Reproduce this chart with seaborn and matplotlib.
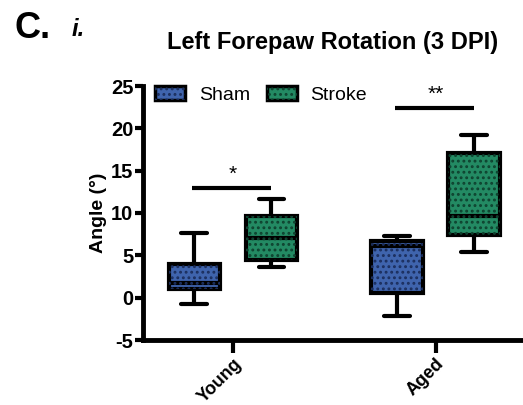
import matplotlib
matplotlib.use("Agg")
import matplotlib.pyplot as plt
from matplotlib.patches import Patch, PathPatch
from matplotlib.legend_handler import HandlerTuple
import seaborn as sns
import pandas as pd

# Five-number summaries (min, Q1, median, Q3, max) per group
ages = ["Young", "Aged"]
conditions = ["Sham", "Stroke"]
young_sham = [-0.8, 1.0, 1.7, 4.0, 7.6]
young_stroke = [3.6, 4.5, 7.0, 9.6, 11.6]
aged_sham = [-2.2, 0.6, 6.1, 6.7, 7.3]
aged_stroke = [5.4, 7.4, 9.7, 17.1, 19.2]

# Significance annotations: (age index, bar height, label)
sig_young = (0, 12.9, "*")
sig_aged = (1, 22.4, "**")

fill_colors = ["#3f64ad", "#238a63"]
dot_colors = ["#1c2f5e", "#0f4330"]

rows = []
for age, sham, stroke in zip(ages, [young_sham, aged_sham], [young_stroke, aged_stroke]):
    for v in sham:
        rows.append({"age": age, "group": "Sham", "angle": v})
    for v in stroke:
        rows.append({"age": age, "group": "Stroke", "angle": v})
df = pd.DataFrame(rows)

sns.set_style("ticks")
plt.rcParams["font.family"] = ["Liberation Sans", "DejaVu Sans"]
plt.rcParams["hatch.linewidth"] = 1.3
plt.rcParams["axes.unicode_minus"] = False
for key in ["text.color", "axes.labelcolor", "xtick.color", "ytick.color", "axes.edgecolor"]:
    plt.rcParams[key] = "black"

fig = plt.figure(figsize=(5.23, 4.05), dpi=100)
ax = fig.add_axes([143 / 523, 65 / 405, 380 / 523, 254 / 405])

sns.boxplot(
    data=df, x="age", y="angle", hue="group", order=ages, hue_order=conditions,
    palette=fill_colors, width=0.76, gap=0.33, whis=(0, 100),
    linecolor="black", linewidth=3, saturation=1, legend=False, ax=ax,
)

# Dotted texture over each box
boxes = [p for p in ax.patches if isinstance(p, PathPatch)]
for p in boxes:
    fc = p.get_facecolor()
    idx = 0 if abs(fc[0] - matplotlib.colors.to_rgba(fill_colors[0])[0]) < 0.05 else 1
    overlay = PathPatch(p.get_path(), transform=p.get_transform(), facecolor="none",
                        edgecolor=dot_colors[idx], linewidth=0, hatch="...",
                        zorder=p.get_zorder() + 0.1)
    ax.add_patch(overlay)

# Significance bars
half = 0.19
for xi, h, label in [sig_young, sig_aged]:
    ax.plot([xi - half - 0.01, xi + half], [h, h], color="black", lw=3, solid_capstyle="butt")
    ax.text(xi, h + 0.5, label, ha="center", va="bottom", fontsize=15)

ax.set_xlim(-0.443, 1.43)
ax.set_ylim(-5, 25)
ax.set_yticks([-5, 0, 5, 10, 15, 20, 25])
ax.set_xlabel("")
ax.set_ylabel("Angle (°)", fontsize=14, fontweight="bold", labelpad=3)

for lbl in ax.get_yticklabels():
    lbl.set_fontweight("bold")
    lbl.set_fontsize(14.5)
ax.set_xticks([0, 1])
ax.set_xticklabels(ages, rotation=45, ha="right", rotation_mode="anchor",
                   fontsize=13, fontweight="bold")

sns.despine(ax=ax)
for side in ["left", "bottom"]:
    ax.spines[side].set_linewidth(3.5)
ax.tick_params(axis="y", length=6, width=3, pad=1)
ax.tick_params(axis="x", length=9, width=3, pad=2)

# Legend with textured swatches
handles = []
for fc, dc in zip(fill_colors, dot_colors):
    base = Patch(facecolor=fc, edgecolor="black", linewidth=2.5)
    dots = Patch(facecolor="none", edgecolor=dc, linewidth=0, hatch="...")
    handles.append((base, dots))
ax.legend(handles, conditions, handler_map={tuple: HandlerTuple(ndivide=1, pad=0)},
          ncol=2, loc="upper left", bbox_to_anchor=(0.012, 1.03), frameon=False,
          fontsize=14, handlelength=1.55, handleheight=0.75, handletextpad=0.7,
          columnspacing=0.85, borderaxespad=0)

fig.text(333 / 523, 1 - 43 / 405, "Left Forepaw Rotation (3 DPI)", ha="center", va="center",
         fontsize=17, fontweight="bold")
fig.text(14 / 523, 1 - 29 / 405, "C.", ha="left", va="center", fontsize=26, fontweight="bold")
fig.text(72 / 523, 1 - 30 / 405, "i.", ha="left", va="center", fontsize=17,
         fontweight="bold", fontstyle="italic")

fig.savefig("out.png", dpi=100)
